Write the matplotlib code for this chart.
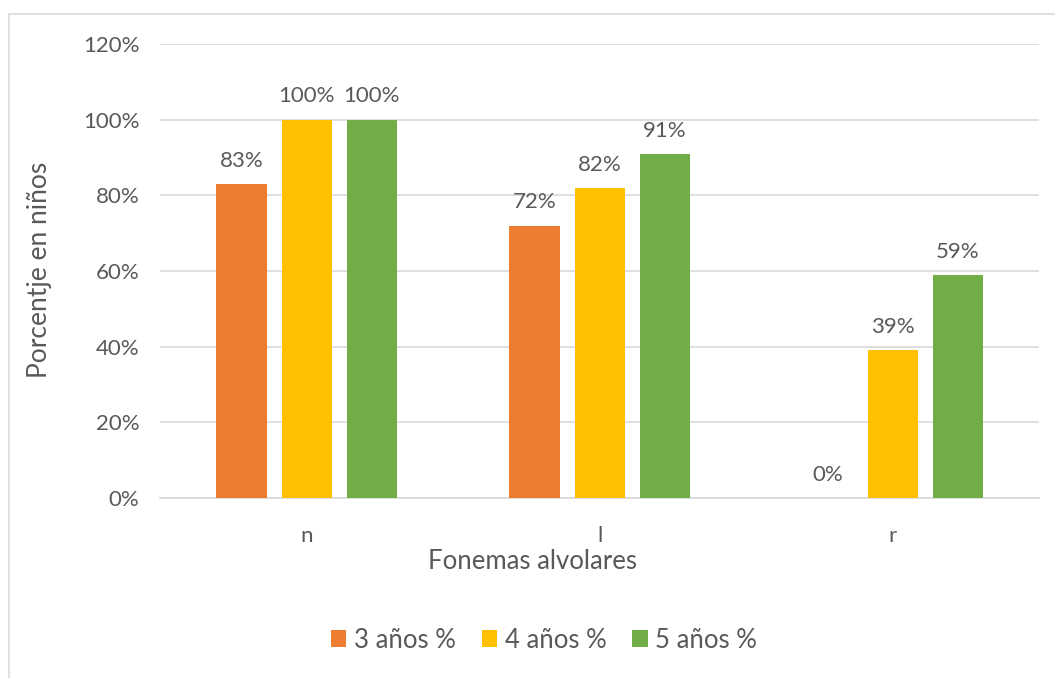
import numpy as np
import matplotlib.pyplot as plt
from matplotlib.patches import Rectangle

categories = ['n', 'l', 'r']
series_names = ['3 años %', '4 años %', '5 años %']
tres = [0.83, 0.72, 0.0]
cuatro = [1.00, 0.82, 0.39]
cinco = [1.00, 0.91, 0.59]
colors = ['#ED7D31', '#FFC000', '#70AD47']

plt.rcParams['font.family'] = ['Lato', 'DejaVu Sans']
txt = '#595959'

fig = plt.figure(figsize=(10.55, 6.78), dpi=100)
ax = fig.add_axes([0.1517, 0.2655, 0.8333, 0.6695])

# chart border
fig.patches.append(Rectangle((9 / 1055, -0.1), 1.2, 1 - 14 / 678 + 0.1,
                             transform=fig.transFigure, fill=False,
                             edgecolor='#D9D9D9', linewidth=1.2))

x = np.arange(len(categories))
width = 0.171
offset = 0.222
for i, (vals, name) in enumerate(zip([tres, cuatro, cinco], series_names)):
    pos = x + (i - 1) * offset
    ax.bar(pos, vals, width, color=colors[i], label=name, zorder=3)
    for p, v in zip(pos, vals):
        ax.text(p, v + 0.035, f'{round(v * 100):d}%', ha='center', va='bottom',
                fontsize=16, color=txt)

ax.set_xlim(-0.5, 2.5)
ax.set_ylim(0, 1.2)
yt = np.arange(0, 1.21, 0.2)
ax.set_yticks(yt)
ax.set_yticklabels([f'{int(round(t * 100))}%' for t in yt])
ax.set_xticks(x)
ax.set_xticklabels(categories)
ax.tick_params(axis='both', length=0, labelsize=16, colors=txt)
ax.tick_params(axis='x', pad=20)
ax.tick_params(axis='y', pad=15)
ax.grid(axis='y', color='#D9D9D9', linewidth=1.2, zorder=0)
for s in ['top', 'right', 'left']:
    ax.spines[s].set_visible(False)
ax.spines['bottom'].set_color('#D9D9D9')
ax.spines['bottom'].set_linewidth(1.2)

ax.set_xlabel('Fonemas alvolares', fontsize=18.5, color=txt)
ax.set_ylabel('Porcentje en niños', fontsize=19, color=txt)
ax.xaxis.set_label_coords((532 - 160) / 879, (498 - 562) / 454)
ax.yaxis.set_label_coords((39 - 160) / 879, (498 - 270) / 454)
ax.xaxis.label.set_va('center')
ax.yaxis.label.set_va('center')

fig.legend(loc='center', bbox_to_anchor=(544 / 1055, 1 - 640 / 678), ncol=3,
           frameon=False, fontsize=18.5, labelcolor=txt, handlelength=0.6,
           handleheight=0.6, handletextpad=0.3, columnspacing=1.0)

fig.savefig('out.png', dpi=100)
